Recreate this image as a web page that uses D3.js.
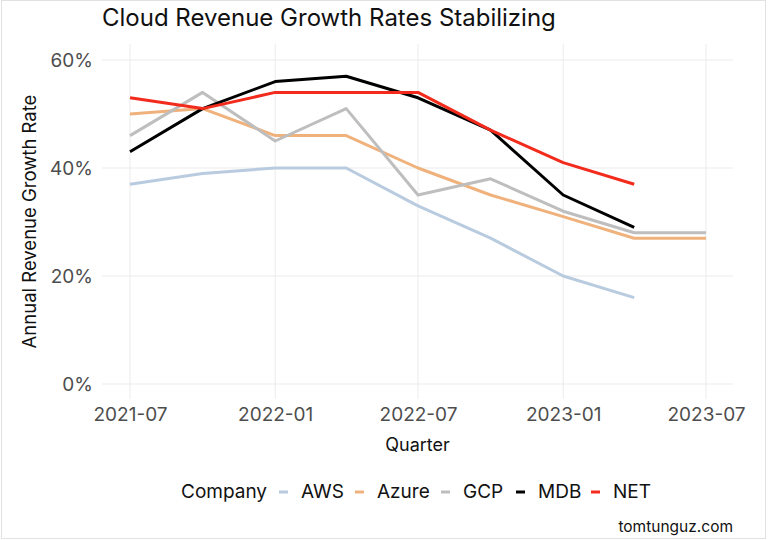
<!DOCTYPE html>
<html>
<head>
<meta charset="utf-8">
<script src="https://cdn.jsdelivr.net/npm/d3@7"></script>
<style>
  body { margin: 0; background: #fff; }
  svg { display: block; font-family: Inter, "Noto Sans", sans-serif; }
</style>
</head>
<body>
<svg width="768" height="540"></svg>
<script>
"use strict";

const quarters = ['2021-07', '2021-10', '2022-01', '2022-04', '2022-07', '2022-10', '2023-01', '2023-04', '2023-07'];
const companies = ['AWS', 'Azure', 'GCP', 'MDB', 'NET'];

// growth rates in %, null where there's no value
const aws   = [37, 39, 40, 40, 33, 27, 20, 16, null];
const azure = [50, 51, 46, 46, 40, 35, 31, 27, 27];
const gcp   = [46, 54, 45, 51, 35, 38, 32, 28, 28];
const mdb   = [43, 51, 56, 57, 53, 47, 35, 29, null];
const net   = [53, 51, 54, 54, 54, 47, 41, 37, null];

const xTicks = ['2021-07', '2022-01', '2022-07', '2023-01', '2023-07'];
const yTicks = [0, 20, 40, 60];

const colorMapping = {
    AWS: '#b9cbdf',
    Azure: '#f0b27c',
    GCP: '#bebebe',
    MDB: '#000000',
    NET: '#f22b1c'
};

const seriesValues = {AWS: aws, Azure: azure, GCP: gcp, MDB: mdb, NET: net};
const parseQ = d3.timeParse('%Y-%m');

const svg = d3.select('svg');

svg.append('rect')
    .attr('x', 1.5).attr('y', 0.5)
    .attr('width', 764).attr('height', 538)
    .attr('fill', 'none')
    .attr('stroke', '#e2e2e2');

const panel = {left: 102, right: 733, top: 44, bottom: 399};

const x = d3.scaleTime()
    .domain(d3.extent(quarters, parseQ))
    .range([130, 706]);

const y = d3.scaleLinear()
    .domain([0, 60])
    .range([384, 60]);

// gridlines
const grid = svg.append('g').attr('class', 'grid');
grid.selectAll('.hgrid')
    .data(yTicks)
    .enter().append('line')
    .attr('x1', panel.left).attr('x2', panel.right)
    .attr('y1', d => y(d)).attr('y2', d => y(d))
    .attr('stroke', '#ebebeb').attr('stroke-width', 1);

grid.selectAll('.vgrid')
    .data(xTicks)
    .enter().append('line')
    .attr('x1', d => x(parseQ(d))).attr('x2', d => x(parseQ(d)))
    .attr('y1', panel.top).attr('y2', panel.bottom)
    .attr('stroke', '#ebebeb').attr('stroke-width', 1);

// axes (no domain line, no ticks)
const xAxis = svg.append('g')
    .attr('transform', `translate(0,${panel.bottom})`)
    .call(d3.axisBottom(x).tickValues(xTicks.map(parseQ)).tickFormat(d3.timeFormat('%Y-%m')).tickSize(0).tickPadding(9));
xAxis.select('.domain').remove();
xAxis.selectAll('text')
    .attr('font-family', 'Inter, sans-serif')
    .attr('font-size', 19)
    .attr('fill', '#4d4d4d');

const yAxis = svg.append('g')
    .attr('transform', `translate(${panel.left},0)`)
    .call(d3.axisLeft(y).tickValues(yTicks).tickFormat(d => d + '%').tickSize(0).tickPadding(9));
yAxis.select('.domain').remove();
yAxis.selectAll('text')
    .attr('font-family', 'Inter, sans-serif')
    .attr('font-size', 19)
    .attr('fill', '#4d4d4d');

// lines
const line = d3.line()
    .defined(d => d.value !== null)
    .x(d => x(d.date))
    .y(d => y(d.value));

companies.forEach(c => {
    const pts = quarters.map((q, i) => ({date: parseQ(q), value: seriesValues[c][i]}));
    svg.append('path')
        .datum(pts)
        .attr('class', `line line-${c.toLowerCase()}`)
        .attr('d', line)
        .attr('fill', 'none')
        .attr('stroke', colorMapping[c])
        .attr('stroke-width', 3)
        .attr('stroke-linejoin', 'round');
});

// titles
svg.append('text')
    .attr('x', 102).attr('y', 26)
    .attr('font-size', 24)
    .attr('fill', '#111')
    .text('Cloud Revenue Growth Rates Stabilizing');

svg.append('text')
    .attr('x', (panel.left + panel.right) / 2).attr('y', 451)
    .attr('text-anchor', 'middle')
    .attr('font-size', 18)
    .attr('fill', '#111')
    .text('Quarter');

svg.append('text')
    .attr('transform', `translate(36,${(panel.top + panel.bottom) / 2}) rotate(-90)`)
    .attr('text-anchor', 'middle')
    .attr('font-size', 18.5)
    .attr('fill', '#111')
    .text('Annual Revenue Growth Rate');

// legend
const legend = svg.append('g').attr('transform', 'translate(181,498)');
legend.append('text')
    .attr('x', 0).attr('y', 0)
    .attr('font-size', 19)
    .attr('fill', '#111')
    .text('Company');

const legendX = [98, 174, 260, 335, 410];
companies.forEach((c, i) => {
    const gx = legendX[i];
    legend.append('line')
        .attr('x1', gx).attr('x2', gx + 9)
        .attr('y1', -6).attr('y2', -6)
        .attr('stroke', colorMapping[c])
        .attr('stroke-width', 3);
    legend.append('text')
        .attr('x', gx + 22).attr('y', 0)
        .attr('font-size', 19)
        .attr('fill', '#111')
        .text(c);
});

svg.append('text')
    .attr('x', 733).attr('y', 532)
    .attr('text-anchor', 'end')
    .attr('font-size', 15.5)
    .attr('fill', '#111')
    .text('tomtunguz.com');
</script>
</body>
</html>
